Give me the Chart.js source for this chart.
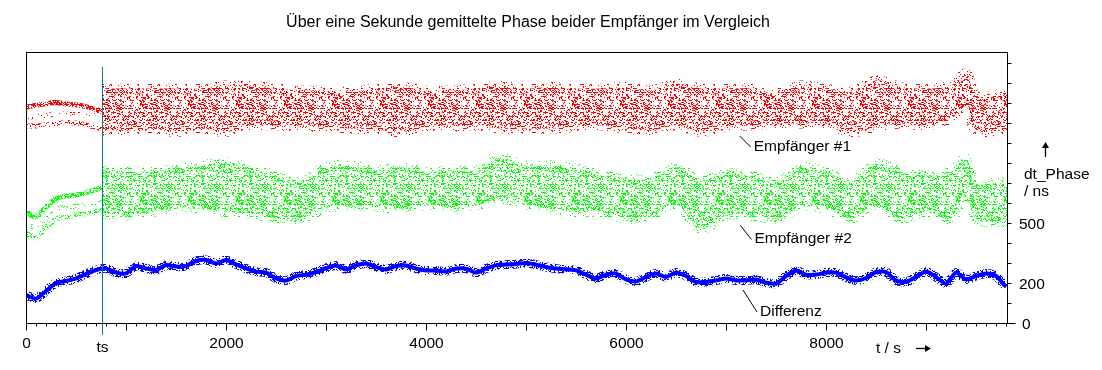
<!DOCTYPE html>
<html>
<head>
<meta charset="utf-8">
<script src="https://cdn.jsdelivr.net/npm/chart.js@4/dist/chart.umd.min.js"></script>
<style>
html, body { margin: 0; padding: 0; background: #fff; }
#wrap { width: 1102px; height: 370px; }
</style>
</head>
<body>
<div id="wrap"><canvas id="chart"></canvas></div>
<script>
// Zeit in s, Phase in ns
var ts = 760;

// vor ts: je drei schmale Spuren
var tPre = [0, 100, 200, 300, 400, 500, 600, 700, 760];
var rot1Pre = [1080, 1088, 1097, 1103, 1095, 1090, 1082, 1068, 1058];
var rot2Pre = [1028, 1032, 1038, 1045, 1045, 1042, 1045, 1050, 1052];
var rot3Pre = [985, 985, 990, 997, 1003, 1000, 990, 978, 968];
var gruen1Pre = [555, 530, 580, 622, 635, 640, 652, 668, 680];
var gruen2Pre = [497, 475, 520, 568, 580, 585, 590, 597, 605];
var gruen3Pre = [450, 425, 478, 520, 530, 538, 547, 557, 567];

// nach ts: Punktwolke, obere und untere Grenze
var tWolke = [760, 1000, 1250, 1500, 1750, 2000, 2250, 2500, 2750, 3000, 3250, 3500, 3750,
  4000, 4250, 4500, 4750, 5000, 5250, 5500, 5750, 6000, 6250, 6500, 6750, 7000, 7250,
  7500, 7750, 8000, 8250, 8500, 8750, 9000, 9250, 9400, 9500, 9750, 9810];
var rotOben = [1172, 1172, 1172, 1172, 1172, 1188, 1188, 1172, 1163, 1163, 1155, 1172, 1180,
  1163, 1163, 1172, 1188, 1172, 1180, 1172, 1172, 1180, 1163, 1197, 1172, 1172, 1172,
  1147, 1188, 1172, 1155, 1213, 1180, 1172, 1188, 1247, 1138, 1138, 1138];
var rotUnten = [963, 963, 972, 955, 972, 955, 988, 988, 980, 980, 972, 968, 955,
  980, 980, 988, 972, 972, 972, 980, 988, 972, 963, 988, 955, 980, 988,
  997, 997, 997, 955, 980, 997, 988, 1022, 1080, 963, 963, 972];
var gruenOben = [772, 755, 755, 772, 788, 805, 772, 738, 705, 780, 788, 763, 780,
  755, 763, 763, 822, 788, 788, 772, 738, 722, 722, 780, 713, 747, 738,
  705, 780, 755, 705, 797, 755, 738, 755, 822, 697, 705, 688];
var gruenUnten = [547, 538, 555, 572, 572, 555, 547, 522, 522, 572, 588, 580, 572,
  588, 580, 588, 622, 588, 572, 555, 555, 522, 538, 588, 472, 538, 538,
  522, 580, 572, 522, 588, 522, 555, 522, 655, 522, 505, 505];

// Differenz, alle 100 s
var tDiff = [];
for (var k = 0; k <= 9800; k += 100) tDiff.push(k);
var differenz = [140, 122, 160, 200, 210, 223, 245, 265, 273, 252,
  248, 285, 273, 265, 290, 282, 285, 310, 315, 298,
  315, 293, 273, 257, 252, 223, 212, 235, 242, 255,
  275, 288, 268, 288, 297, 280, 268, 285, 288, 272,
  263, 263, 258, 272, 272, 252, 272, 288, 292, 295,
  300, 292, 280, 272, 268, 263, 242, 222, 242, 247,
  218, 208, 230, 247, 230, 252, 235, 205, 205, 213,
  222, 213, 213, 217, 202, 197, 235, 263, 242, 242,
  252, 252, 228, 213, 225, 255, 255, 213, 205, 230,
  258, 230, 197, 252, 218, 235, 247, 235, 180];

var xTicks = [0, 2000, 4000, 6000, 8000];
var yTicks = [0, 200, 500];
var xMax = 9810, yMax = 1355;

var titel = 'Über eine Sekunde gemittelte Phase beider Empfänger im Vergleich';
var beschriftung = [
  { text: 'Empfänger #1', t: 7137, v: 935, dx: 11, dy: 11 },
  { text: 'Empfänger #2', t: 7144, v: 488, dx: 11, dy: 14 },
  { text: 'Differenz', t: 7170, v: 165, dx: 14, dy: 22 }
];

function paare(xs, ys) {
  return xs.map(function (x, i) { return { x: x, y: ys[i] }; });
}

var canvas = document.getElementById('chart');
var ctx = canvas.getContext('2d');

// Punkt-Textur (feste Folge, nur Optik)
function punktMuster(farbe, anzahl, start) {
  var tile = document.createElement('canvas');
  tile.width = 48; tile.height = 48;
  var g = tile.getContext('2d');
  g.fillStyle = farbe;
  var s = start;
  for (var i = 0; i < anzahl; i++) {
    s = (s * 16807) % 2147483647;
    var x = s % 48;
    s = (s * 16807) % 2147483647;
    var y = s % 48;
    g.fillRect(x, y, (s % 4 === 0) ? 2 : 1, 1);
  }
  return ctx.createPattern(tile, 'repeat');
}

var rotMuster = punktMuster('#ff0000', 620, 12345);
var rotRand = punktMuster('#ff0000', 220, 777);
var rotDicht = punktMuster('#ff0000', 1700, 4242);
var gruenMuster = punktMuster('#00ff00', 620, 12345);
var gruenRand = punktMuster('#00ff00', 220, 777);
var gruenDicht = punktMuster('#00ff00', 1700, 4242);
var blauRand = punktMuster('#0000ff', 900, 999);

function spur(daten, farbe, breite, spannung) {
  return {
    data: daten, borderColor: farbe, borderWidth: breite,
    pointRadius: 0, fill: false, tension: spannung === undefined ? 0.3 : spannung
  };
}
function grenze(daten, rand) {
  return { data: daten, borderWidth: 10, borderColor: rand, pointRadius: 0, fill: false, tension: 0.35 };
}
function wolke(daten, muster, rand) {
  return { data: daten, borderWidth: 10, borderColor: rand, pointRadius: 0,
    fill: '-1', backgroundColor: muster, tension: 0.35 };
}

var deko = {
  id: 'deko',
  afterDraw: function (chart) {
    var c = chart.ctx, xs = chart.scales.x, ys = chart.scales.y, a = chart.chartArea;
    var font = '15.5px "Liberation Sans", Arial, sans-serif';
    c.save();

    // ts-Linie
    var xts = Math.round(xs.getPixelForValue(ts)) + 0.5;
    c.strokeStyle = '#008080'; c.lineWidth = 1;
    c.beginPath(); c.moveTo(xts, ys.getPixelForValue(1280)); c.lineTo(xts, a.bottom + 12); c.stroke();

    // Rahmen
    c.strokeStyle = '#000';
    c.strokeRect(a.left + 0.5, a.top + 0.5, a.right - a.left, a.bottom - a.top);

    // Striche unten
    c.beginPath();
    for (var t = 0; t <= xMax; t += 100) {
      var px = Math.round(xs.getPixelForValue(t)) + 0.5;
      var len = (t % 1000 === 0) ? 7 : 3;
      c.moveTo(px, a.bottom + 0.5); c.lineTo(px, a.bottom + 0.5 + len);
    }
    // Striche rechts
    for (var v = 0; v <= 1300; v += 100) {
      var py = Math.round(ys.getPixelForValue(v)) + 0.5;
      c.moveTo(a.right + 0.5, py); c.lineTo(a.right + 0.5 + (v === 0 ? 8 : 4), py);
    }
    c.stroke();

    c.fillStyle = '#000';
    c.font = font;
    c.textAlign = 'center'; c.textBaseline = 'alphabetic';
    xTicks.forEach(function (t) {
      c.fillText(String(t), xs.getPixelForValue(t) + 0.5, a.bottom + 24.5);
    });
    c.fillText('ts', xts, a.bottom + 29);
    c.textAlign = 'left';
    c.fillText('t / s', 876, 353);
    yTicks.forEach(function (v) {
      c.fillText(String(v), a.right + (v === 0 ? 15 : 12), ys.getPixelForValue(v) + 6);
    });
    c.fillText('dt_Phase', 1024, 178.5);
    c.fillText('/ ns', 1024, 195.5);

    // Pfeile
    c.lineWidth = 1.3;
    c.beginPath(); c.moveTo(916, 348.5); c.lineTo(929, 348.5); c.stroke();
    c.beginPath(); c.moveTo(931, 348.5); c.lineTo(925, 345); c.lineTo(925, 352); c.closePath(); c.fill();
    c.beginPath(); c.moveTo(1045.5, 157); c.lineTo(1045.5, 145); c.stroke();
    c.beginPath(); c.moveTo(1045.5, 142); c.lineTo(1042, 148); c.lineTo(1049, 148); c.closePath(); c.fill();

    // Beschriftung der Kurven
    c.lineWidth = 1;
    beschriftung.forEach(function (b) {
      var x0 = xs.getPixelForValue(b.t), y0 = ys.getPixelForValue(b.v);
      c.beginPath(); c.moveTo(x0, y0); c.lineTo(x0 + b.dx, y0 + b.dy); c.stroke();
      c.fillText(b.text, x0 + b.dx + 3, y0 + b.dy + 4);
    });

    // Titel
    c.textAlign = 'center';
    c.font = '16px "Liberation Sans", Arial, sans-serif';
    c.fillText(titel, 528, 26.5);
    c.restore();
  }
};

new Chart(ctx, {
  type: 'line',
  data: {
    datasets: [
      grenze(paare(tWolke, rotUnten), rotRand),
      wolke(paare(tWolke, rotOben), rotMuster, rotRand),
      grenze(paare(tWolke, gruenUnten), gruenRand),
      wolke(paare(tWolke, gruenOben), gruenMuster, gruenRand),
      spur(paare(tPre, rot1Pre), rotDicht, 5),
      spur(paare(tPre, rot2Pre), rotRand, 5),
      spur(paare(tPre, rot3Pre), rotMuster, 5),
      spur(paare(tPre, gruen1Pre), gruenDicht, 5),
      spur(paare(tPre, gruen2Pre), gruenRand, 5),
      spur(paare(tPre, gruen3Pre), gruenMuster, 5),
      spur(paare(tDiff, differenz), blauRand, 9, 0.25),
      spur(paare(tDiff, differenz), '#0000ff', 4, 0.25)
    ]
  },
  options: {
    responsive: true,
    maintainAspectRatio: false,
    animation: false,
    layout: { padding: { left: 26, right: 95, top: 52, bottom: 47 } },
    plugins: { legend: { display: false }, tooltip: { enabled: false }, title: { display: false } },
    scales: {
      x: { type: 'linear', min: 0, max: xMax, display: false },
      y: { type: 'linear', min: 0, max: yMax, display: false }
    }
  },
  plugins: [deko]
});
</script>
</body>
</html>
